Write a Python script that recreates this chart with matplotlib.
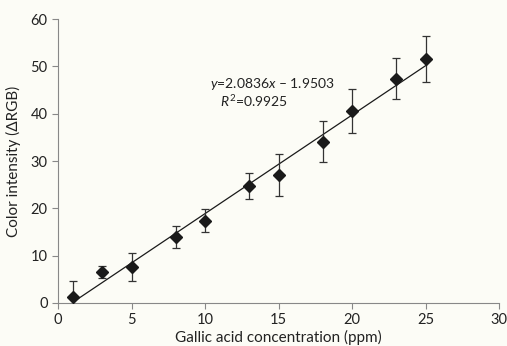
import numpy as np
import matplotlib.pyplot as plt

# data
conc = [1, 3, 5, 8, 10, 13, 15, 18, 20, 23, 25]
intensity = [1.3, 6.6, 7.6, 14.0, 17.4, 24.7, 27.1, 34.1, 40.6, 47.4, 51.6]
err = [3.4, 1.3, 3.0, 2.3, 2.4, 2.7, 4.4, 4.3, 4.7, 4.4, 4.8]
slope = 2.0836
intercept = -1.9503
r2 = 0.9925

plt.rcParams['font.family'] = ['Lato', 'DejaVu Sans']
plt.rcParams['mathtext.fontset'] = 'custom'
plt.rcParams['mathtext.rm'] = 'Lato'
plt.rcParams['mathtext.it'] = 'Lato:italic'

fig = plt.figure(figsize=(5.07, 3.46), dpi=100)
fig.patch.set_facecolor('#fcfcf6')
ax = fig.add_axes([0.1144, 0.1243, 0.870, 0.8207])
ax.set_facecolor('#fcfcf6')

# trend line
xs = np.array([conc[0], conc[-1]])
ax.plot(xs, slope * xs + intercept, color='#1a1a1a', lw=0.9, zorder=2)

ax.errorbar(conc, intensity, yerr=err, fmt='D', color='#1a1a1a', ms=6,
            ecolor='#333333', elinewidth=0.9, capsize=3, capthick=0.9, zorder=3)

ax.text(0.485, 0.771, '$y$=2.0836$x$ \u2013 1.9503', transform=ax.transAxes,
        ha='center', va='center', fontsize=10, color='#222222')
ax.text(0.443, 0.711, '$R^2$=%.4f' % r2, transform=ax.transAxes,
        ha='center', va='center', fontsize=10, color='#222222')

ax.set_xlim(0, 30)
ax.set_ylim(0, 60)
ax.set_xticks(range(0, 31, 5))
ax.set_yticks(range(0, 61, 10))
for s in ['top', 'right']:
    ax.spines[s].set_visible(False)
for s in ['left', 'bottom']:
    ax.spines[s].set_color('#888888')
    ax.spines[s].set_linewidth(0.8)
ax.tick_params(colors='#888888', length=4, width=0.8, labelsize=10.5, labelcolor='#222222')
ax.set_xlabel('Gallic acid concentration (ppm)', fontsize=11, color='#222222', labelpad=1.5)
ax.set_ylabel('Color intensity (\u0394RGB)', fontsize=11, color='#222222', labelpad=7)

fig.savefig('out.png', dpi=100, facecolor=fig.get_facecolor())
